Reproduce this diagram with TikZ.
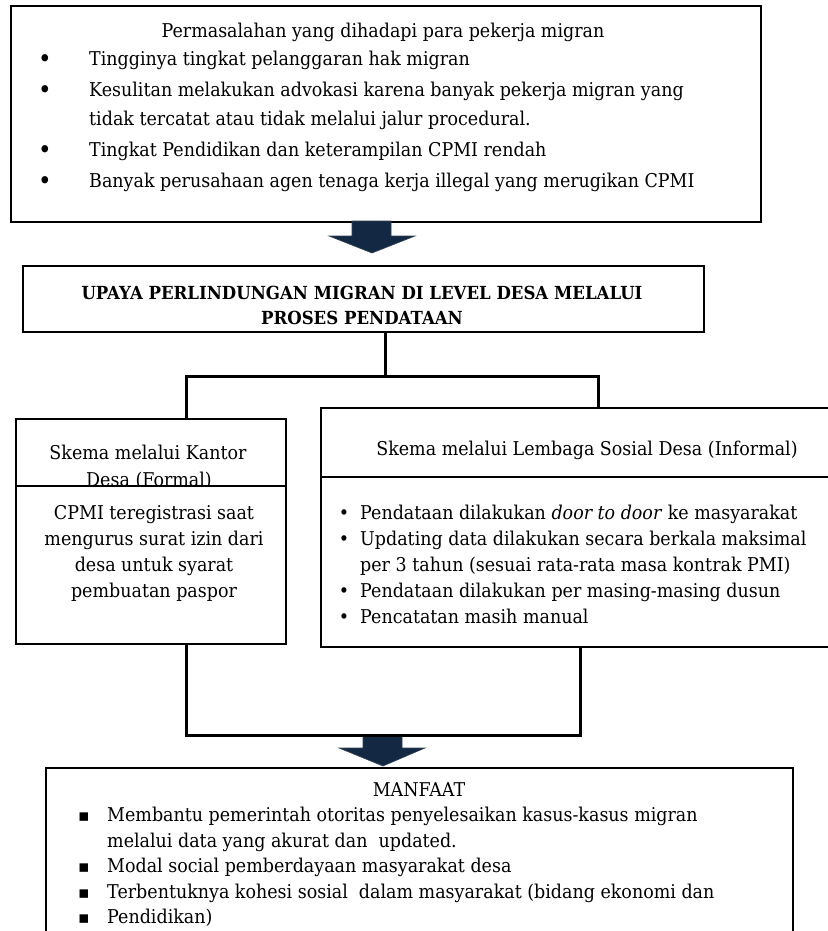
\documentclass[tikz,border=0pt]{standalone}
\usepackage{fontspec}
\setmainfont{DejaVu Serif}[FakeStretch=0.92]
\newfontfamily\bulletfont{DejaVu Sans}
\usetikzlibrary{calc}
\definecolor{arrowfill}{RGB}{19,40,66}
\tikzset{
  box/.style={draw=black, line width=2pt, rectangle, inner sep=0pt},
  divider/.style={draw=black, line width=2pt},
  conn/.style={draw=black, line width=3pt, line join=miter},
  txt/.style={anchor=base west, inner sep=0pt, font=\fontsize{19}{22}\selectfont},
  ctxt/.style={anchor=base, inner sep=0pt, font=\fontsize{19}{22}\selectfont},
  mtxt/.style={anchor=base west, inner sep=0pt, font=\fontsize{19}{22}\selectfont},
  btxt/.style={anchor=base, inner sep=0pt, font=\fontsize{18}{21}\selectfont\bfseries},
  tbul/.style={anchor=base, inner sep=0pt, font=\fontsize{25}{27}\selectfont},
  rbul/.style={anchor=base, inner sep=0pt, font=\fontsize{19}{22}\selectfont},
  sbul/.style={anchor=base, inner sep=0pt, font=\fontsize{17}{20}\bulletfont},
  fat/.style={fill=arrowfill, draw=arrowfill!70!gray, line width=0.6pt},
}
\begin{document}
\begin{tikzpicture}[x=1pt,y=-1pt]
\useasboundingbox (0,0) rectangle (827,931);
\fill[white] (0,0) rectangle (827,931);

% ---------- top box ----------
\node[box, line width=2.2pt, minimum width=750pt, minimum height=216pt] (prob) at (386,114) {};
\node[ctxt] (probtitle) at (383,38) {Permasalahan yang dihadapi para pekerja migran};
\node[tbul] (pb1) at (45,68) {•};
\node[txt]  (pt1) at (89,66) {Tingginya tingkat pelanggaran hak migran};
\node[tbul] (pb2) at (45,99) {•};
\node[txt]  (pt2) at (89,97) {Kesulitan melakukan advokasi karena banyak pekerja migran yang};
\node[txt]  (pt2b) at (89,125) {tidak tercatat atau tidak melalui jalur procedural.};
\node[tbul] (pb3) at (45,158) {•};
\node[txt]  (pt3) at (89,156) {Tingkat Pendidikan dan keterampilan CPMI rendah};
\node[tbul] (pb4) at (45,189) {•};
\node[txt]  (pt4) at (89,187) {Banyak perusahaan agen tenaga kerja illegal yang merugikan CPMI};

% ---------- arrow 1 ----------
\fill[fat] (352,221) -- (391,221) -- (391,236) -- (415,236) -- (372,253) -- (329,236) -- (352,236) -- cycle;

% ---------- UPAYA box ----------
\node[box, minimum width=681pt, minimum height=66pt] (upaya) at (363.5,299) {};
\node[btxt] (up1) at (362,299) {UPAYA PERLINDUNGAN MIGRAN DI LEVEL DESA MELALUI};
\node[btxt] (up2) at (362,324) {PROSES PENDATAAN};

% ---------- left box ----------
\node[box, minimum width=270pt, minimum height=225pt] (left) at (151,531.5) {};
\begin{scope}
  \clip (17,420) rectangle (285,486);
  \node[ctxt] (lh1) at (148,459) {Skema melalui Kantor};
  \node[ctxt] (lh2) at (149,486) {Desa (Formal)};
\end{scope}
\draw[divider] (left.west |- 0,486) -- (left.east |- 0,486);
\node[ctxt] (lc1) at (154,519) {CPMI teregistrasi saat};
\node[ctxt] (lc2) at (154,545) {mengurus surat izin dari};
\node[ctxt] (lc3) at (154,571) {desa untuk syarat};
\node[ctxt] (lc4) at (154,597) {pembuatan paspor};

% ---------- right box ----------
\node[box, minimum width=532pt, minimum height=239pt] (right) at (587,527.5) {};
\draw[divider] (right.west |- 0,477) -- (right.east |- 0,477);
\node[ctxt] (rh) at (587,455) {Skema melalui Lembaga Sosial Desa (Informal)};
\node[rbul] (rb1) at (344,519) {•};
\node[txt]  (rt1) at (360,519) {Pendataan dilakukan \textit{door to door} ke masyarakat};
\node[rbul] (rb2) at (344,545) {•};
\node[txt]  (rt2) at (360,545) {Updating data dilakukan secara berkala maksimal};
\node[txt]  (rt2b) at (360,571) {per 3 tahun (sesuai rata-rata masa kontrak PMI)};
\node[rbul] (rb3) at (344,597) {•};
\node[txt]  (rt3) at (360,597) {Pendataan dilakukan per masing-masing dusun};
\node[rbul] (rb4) at (344,623) {•};
\node[txt]  (rt4) at (360,623) {Pencatatan masih manual};

% ---------- upper connectors ----------
\coordinate (hub) at (385,376);
\coordinate (jL) at (186,376);
\coordinate (jR) at (598,376);
\draw[conn] (hub |- upaya.south) -- (hub);
\draw[conn] (jL |- left.north) -- (jL) -- (jR) -- (jR |- right.north);

% ---------- lower connectors ----------
\coordinate (bL) at (186,735);
\coordinate (bR) at (580,735);
\fill[fat] (363,736) -- (402,736) -- (402,748) -- (425,748) -- (383,766) -- (339,748) -- (363,748) -- cycle;
\draw[conn] (bL |- left.south) -- (bL) -- (bR) -- (bR |- right.south);

% ---------- MANFAAT box ----------
\node[box, line width=1.8pt, minimum width=747pt, minimum height=200pt] (manf) at (419.5,868) {};
\node[ctxt] (mt) at (419,796) {MANFAAT};
\node[sbul] (mb1) at (84,821.5) {▪};
\node[mtxt] (m1) at (107,821.5) {Membantu pemerintah otoritas penyelesaikan kasus-kasus migran};
\node[mtxt] (m1b) at (107,847) {melalui data yang akurat dan\ \ updated.};
\node[sbul] (mb2) at (84,872.5) {▪};
\node[mtxt] (m2) at (107,872.5) {Modal social pemberdayaan masyarakat desa};
\node[sbul] (mb3) at (84,898) {▪};
\node[mtxt] (m3) at (107,898) {Terbentuknya kohesi sosial\ \ dalam masyarakat (bidang ekonomi dan};
\node[sbul] (mb4) at (84,923.5) {▪};
\node[mtxt] (m4) at (107,923.5) {Pendidikan)};
\end{tikzpicture}
\end{document}
